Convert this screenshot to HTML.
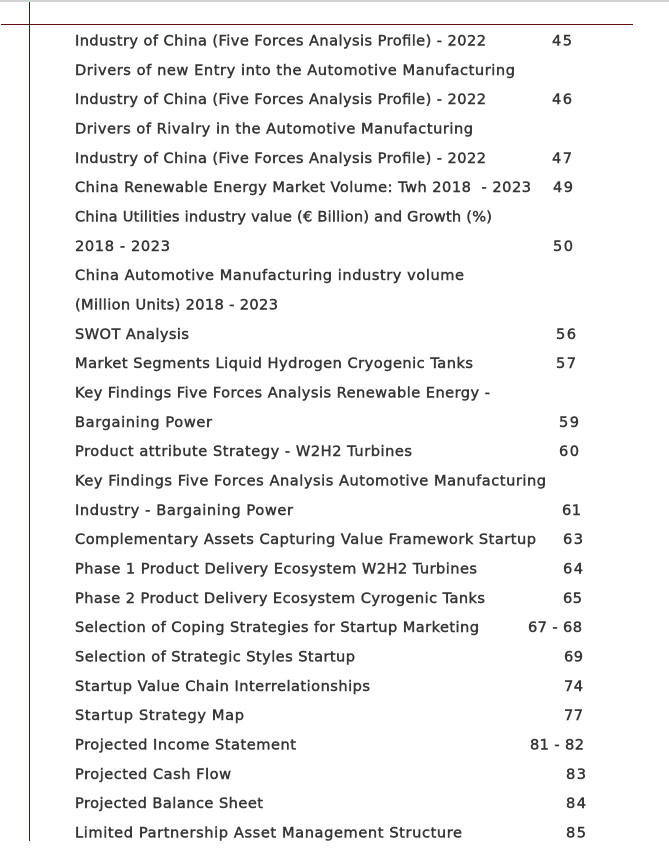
<!DOCTYPE html>
<html>
<head>
<meta charset="utf-8">
<style>
  html, body { margin: 0; padding: 0; background: #ffffff; }
  body { width: 669px; height: 866px; overflow: hidden; position: relative; }
  svg { position: absolute; left: 0; top: 0; }
  text { font-family: "DejaVu Sans", "Liberation Sans", sans-serif; font-size: 14.6px; fill: #353535; stroke: #353535; stroke-width: 0.45px; }
</style>
</head>
<body>
<svg width="669" height="866" viewBox="0 0 669 866" xmlns="http://www.w3.org/2000/svg">
  <rect x="0" y="0" width="669" height="2" fill="#d4d4d4"/>
  <rect x="29" y="2" width="1" height="839" fill="#5a1010"/>
  <rect x="1" y="24" width="632" height="1" fill="#5a1010"/>

  <g>
    <text x="75" y="45.5" textLength="411">Industry of China (Five Forces Analysis Profile) - 2022</text>
    <text x="552" y="45.5" textLength="20">45</text>

    <text x="75" y="74.8" textLength="440">Drivers of new Entry into the Automotive Manufacturing</text>

    <text x="75" y="104.2" textLength="411">Industry of China (Five Forces Analysis Profile) - 2022</text>
    <text x="552" y="104.2" textLength="20">46</text>

    <text x="75" y="133.5" textLength="398">Drivers of Rivalry in the Automotive Manufacturing</text>

    <text x="75" y="162.8" textLength="411">Industry of China (Five Forces Analysis Profile) - 2022</text>
    <text x="552" y="162.8" textLength="20">47</text>

    <text x="75" y="192.2" textLength="456">China Renewable Energy Market Volume: Twh 2018&#160; - 2023</text>
    <text x="553" y="192.2" textLength="20">49</text>

    <text x="75" y="221.5" textLength="417">China Utilities industry value (€ Billion) and Growth (%)</text>

    <text x="75" y="250.8" textLength="95">2018 - 2023</text>
    <text x="553" y="250.8" textLength="20">50</text>

    <text x="75" y="280.1" textLength="389">China Automotive Manufacturing industry volume</text>

    <text x="75" y="309.5" textLength="203">(Million Units) 2018 - 2023</text>

    <text x="75" y="338.8" textLength="114">SWOT Analysis</text>
    <text x="556" y="338.8" textLength="20">56</text>

    <text x="75" y="368.1" textLength="398">Market Segments Liquid Hydrogen Cryogenic Tanks</text>
    <text x="556" y="368.1" textLength="20">57</text>

    <text x="75" y="397.5" textLength="415">Key Findings Five Forces Analysis Renewable Energy -</text>

    <text x="75" y="426.8" textLength="137">Bargaining Power</text>
    <text x="559" y="426.8" textLength="20">59</text>

    <text x="75" y="456.1" textLength="337">Product attribute Strategy - W2H2 Turbines</text>
    <text x="559" y="456.1" textLength="20">60</text>

    <text x="75" y="485.5" textLength="471">Key Findings Five Forces Analysis Automotive Manufacturing</text>

    <text x="75" y="514.8" textLength="218">Industry - Bargaining Power</text>
    <text x="562" y="514.8" textLength="19">61</text>

    <text x="75" y="544.1" textLength="461">Complementary Assets Capturing Value Framework Startup</text>
    <text x="563" y="544.1" textLength="20">63</text>

    <text x="75" y="573.4" textLength="402">Phase 1 Product Delivery Ecosystem W2H2 Turbines</text>
    <text x="563" y="573.4" textLength="20">64</text>

    <text x="75" y="602.8" textLength="410">Phase 2 Product Delivery Ecosystem Cyrogenic Tanks</text>
    <text x="563" y="602.8" textLength="19">65</text>

    <text x="75" y="632.1" textLength="404">Selection of Coping Strategies for Startup Marketing</text>
    <text x="528" y="632.1" textLength="54">67 - 68</text>

    <text x="75" y="661.4" textLength="280">Selection of Strategic Styles Startup</text>
    <text x="564" y="661.4" textLength="19">69</text>

    <text x="75" y="690.8" textLength="295">Startup Value Chain Interrelationships</text>
    <text x="564" y="690.8" textLength="19">74</text>

    <text x="75" y="720.1" textLength="169">Startup Strategy Map</text>
    <text x="564" y="720.1" textLength="19">77</text>

    <text x="75" y="749.4" textLength="221">Projected Income Statement</text>
    <text x="530" y="749.4" textLength="54">81 - 82</text>

    <text x="75" y="778.8" textLength="156">Projected Cash Flow</text>
    <text x="566" y="778.8" textLength="20">83</text>

    <text x="75" y="808.1" textLength="188">Projected Balance Sheet</text>
    <text x="566" y="808.1" textLength="20">84</text>

    <text x="75" y="837.4" textLength="387">Limited Partnership Asset Management Structure</text>
    <text x="566" y="837.4" textLength="20">85</text>
  </g>
</svg>
</body>
</html>
